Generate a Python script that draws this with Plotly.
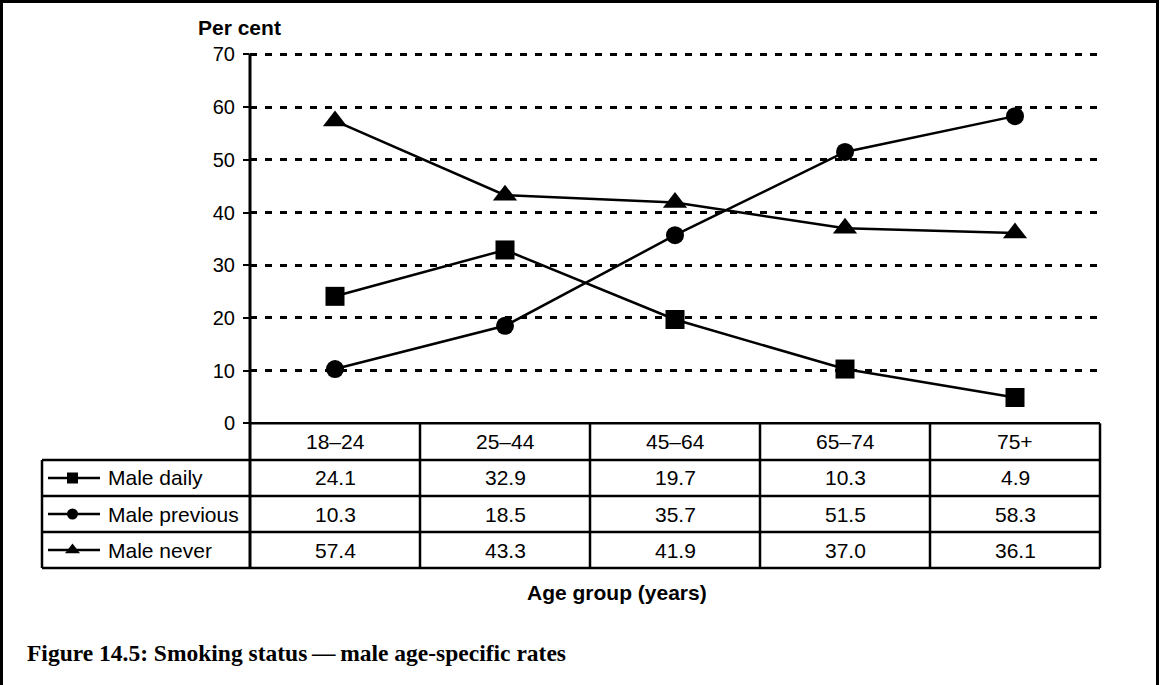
import plotly.graph_objects as go

# Age groups and smoking status rates (per cent)
age_groups = ["18–24", "25–44", "45–64", "65–74", "75+"]
series_names = ["Male daily", "Male previous", "Male never"]
male_daily = [24.1, 32.9, 19.7, 10.3, 4.9]
male_previous = [10.3, 18.5, 35.7, 51.5, 58.3]
male_never = [57.4, 43.3, 41.9, 37.0, 36.1]
y_ticks = [0, 10, 20, 30, 40, 50, 60, 70]

W, H = 1160, 685
FONT = "Liberation Sans, Arial, sans-serif"

# Pixel layout of the chart frame and the data table below it
PLOT_L, PLOT_R = 250, 1100
PLOT_T, PLOT_B = 54.5, 423.3
Y_MAX = 70.3  # small headroom so the 70 gridline is drawn
PLOT_TOP_PX = PLOT_B - (PLOT_B - PLOT_T) * Y_MAX / 70
TABLE_L = 42
ROW_EDGES = [PLOT_B, 460, 496, 532, 568]
COL_W = (PLOT_R - PLOT_L) / len(age_groups)
LW = 2.5


def px(x):
    return x / W


def py(y):
    return 1 - y / H


series = [
    (series_names[0], male_daily, "square", 19),
    (series_names[1], male_previous, "circle", 18),
    (series_names[2], male_never, "triangle-up", 21),
]
legend_marker_size = {"square": 11, "circle": 11, "triangle-up": 13}

fig = go.Figure()

for name, vals, sym, size in series:
    fig.add_trace(go.Scatter(
        x=age_groups, y=vals, name=name, mode="lines+markers",
        line=dict(color="black", width=LW),
        marker=dict(symbol=sym, size=size, color="black"),
        cliponaxis=False, showlegend=False,
    ))

# Legend glyphs drawn inside the table on a full-page pixel subplot
for i, (name, vals, sym, size) in enumerate(series):
    yc = (ROW_EDGES[i + 1] + ROW_EDGES[i + 2]) / 2
    fig.add_trace(go.Scatter(
        x=[48, 72.5, 100], y=[yc, yc, yc], mode="lines",
        line=dict(color="black", width=LW),
        xaxis="x2", yaxis="y2", showlegend=False, hoverinfo="skip",
    ))
    fig.add_trace(go.Scatter(
        x=[72.5], y=[yc], mode="markers",
        marker=dict(symbol=sym, size=legend_marker_size[sym], color="black"),
        xaxis="x2", yaxis="y2", showlegend=False, hoverinfo="skip",
    ))

shapes = []


def hline(y, x0, x1, w=LW):
    shapes.append(dict(type="line", xref="paper", yref="paper",
                       x0=px(x0), x1=px(x1), y0=py(y), y1=py(y),
                       line=dict(color="black", width=w)))


def vline(x, y0, y1, w=LW):
    shapes.append(dict(type="line", xref="paper", yref="paper",
                       x0=px(x), x1=px(x), y0=py(y0), y1=py(y1),
                       line=dict(color="black", width=w)))


# Table grid
hline(ROW_EDGES[0], PLOT_L, PLOT_R)
for y in ROW_EDGES[1:]:
    hline(y, TABLE_L, PLOT_R)
vline(TABLE_L, ROW_EDGES[1], ROW_EDGES[-1])
vline(PLOT_L, PLOT_T - 1, ROW_EDGES[-1], w=3)
for k in range(1, len(age_groups) + 1):
    vline(PLOT_L + k * COL_W, ROW_EDGES[0], ROW_EDGES[-1])

# Outer frame
shapes.append(dict(type="rect", xref="paper", yref="paper",
                   x0=px(1.5), x1=px(1157.5), y0=py(1.5), y1=py(700),
                   line=dict(color="black", width=3)))

annotations = []
txt = dict(family=FONT, size=21, color="black")

# Column headers
for g in age_groups:
    annotations.append(dict(x=g, xref="x", y=py((ROW_EDGES[0] + ROW_EDGES[1]) / 2),
                            yref="paper", text=g, showarrow=False, font=txt,
                            xanchor="center", yanchor="middle"))

# Value rows with series names
for i, (name, vals, sym, size) in enumerate(series):
    yc = py((ROW_EDGES[i + 1] + ROW_EDGES[i + 2]) / 2)
    annotations.append(dict(x=px(106), xref="paper", y=yc, yref="paper", text=name,
                            showarrow=False, font=txt, xanchor="left", yanchor="middle"))
    for g, v in zip(age_groups, vals):
        annotations.append(dict(x=g, xref="x", y=yc, yref="paper", text=f"{v:.1f}",
                                showarrow=False, font=txt, xanchor="center",
                                yanchor="middle"))

bold = dict(family=FONT, size=21, color="black", weight="bold")
annotations.append(dict(x=px(239), y=py(28), xref="paper", yref="paper", text="Per cent",
                        showarrow=False, font=bold, xanchor="center", yanchor="middle"))
annotations.append(dict(x=px(617), y=py(592), xref="paper", yref="paper",
                        text="Age group (years)", showarrow=False, font=bold,
                        xanchor="center", yanchor="middle"))
annotations.append(dict(x=px(25), y=py(653), xref="paper", yref="paper",
                        text="Figure 14.5: Smoking status\u2009—\u2009male age-specific rates",
                        showarrow=False, xanchor="left", yanchor="middle",
                        font=dict(family="Liberation Serif, serif", size=23.5,
                                  color="black", weight="bold")))

fig.update_layout(
    template="none",
    width=W, height=H, autosize=False,
    margin=dict(l=0, r=0, t=0, b=0, pad=0, autoexpand=False),
    paper_bgcolor="white", plot_bgcolor="rgba(0,0,0,0)",
    xaxis=dict(domain=[px(PLOT_L), px(PLOT_R)], type="category",
               range=[-0.5, len(age_groups) - 0.5], showticklabels=False,
               showgrid=False, zeroline=False, showline=False, ticks="",
               automargin=False, anchor="y"),
    yaxis=dict(domain=[py(PLOT_B), py(PLOT_TOP_PX)], range=[0, Y_MAX], tickvals=y_ticks,
               showgrid=True, gridcolor="black", gridwidth=2.5, griddash="7px,8px",
               zeroline=False, showline=False, ticks="outside", ticklen=6,
               tickwidth=2, tickcolor="black", ticklabelstandoff=4,
               automargin=False, anchor="x",
               tickfont=dict(family=FONT, size=20, color="black")),
    xaxis2=dict(domain=[0, 1], range=[0, W], visible=False, anchor="y2",
                automargin=False),
    yaxis2=dict(domain=[0, 1], range=[H, 0], visible=False, anchor="x2",
                automargin=False),
    shapes=shapes,
    annotations=annotations,
)

fig.write_html("out.html")
